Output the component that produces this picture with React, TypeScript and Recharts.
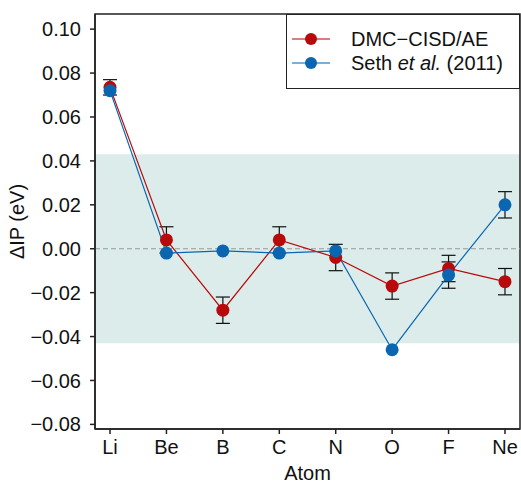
import {
  LineChart,
  Line,
  XAxis,
  YAxis,
  ErrorBar,
  ReferenceArea,
  ReferenceLine,
  Legend,
} from "recharts";

const atoms = ["Li", "Be", "B", "C", "N", "O", "F", "Ne"];
const dmcValues = [0.0735, 0.004, -0.028, 0.004, -0.004, -0.017, -0.009, -0.015];
const dmcErrors = [0.0035, 0.006, 0.006, 0.006, 0.006, 0.006, 0.006, 0.006];
const sethValues = [0.072, -0.002, -0.001, -0.002, -0.001, -0.046, -0.012, 0.02];
const sethErrors = [0, 0, 0, 0, 0, 0, 0.006, 0.006];
const yTicks = [-0.08, -0.06, -0.04, -0.02, 0, 0.02, 0.04, 0.06, 0.08, 0.1];
const bandLimit = 0.043;

const X_MIN = -0.266;
const X_MAX = 7.266;
const Y_MIN = -0.0821;
const Y_MAX = 0.1069;

const RED = "#b80a0a";
const BLUE = "#0a66b0";
const FONT = '"Liberation Sans", Arial, sans-serif';
const FS = 20;

const rows = atoms.map((atom, i) => ({
  x: i,
  atom,
  dmc: dmcValues[i],
  dmcErr: dmcErrors[i],
  seth: sethValues[i],
  sethErr: sethErrors[i],
}));

const series = [
  { name: "DMC\u2212CISD/AE", color: RED },
  { name: "Seth", color: BLUE },
];

function fmtY(v: number) {
  const s = Math.abs(v).toFixed(2);
  return v < -1e-9 ? "\u2212" + s : s;
}

function LegendBox() {
  return (
    <div
      style={{
        width: 234,
        height: 75,
        border: "1.5px solid #222",
        background: "#fff",
        boxSizing: "border-box",
        fontFamily: FONT,
        fontSize: FS,
        color: "#111",
        paddingTop: 12,
      }}
    >
      {series.map((s) => (
        <div key={s.name} style={{ display: "flex", alignItems: "center", height: 24 }}>
          <svg width={58} height={20} style={{ marginLeft: 4 }}>
            <line x1={1} y1={10} x2={39} y2={10} stroke={s.color} strokeWidth={1.5} opacity={0.7} />
            <circle cx={20} cy={10} r={6} fill={s.color} />
          </svg>
          <span style={{ marginLeft: 2 }}>
            {s.name === "Seth" ? (
              <>
                Seth <i>et al.</i> (2011)
              </>
            ) : (
              s.name
            )}
          </span>
        </div>
      ))}
    </div>
  );
}

export default function App() {
  return (
    <div style={{ position: "fixed", left: 0, top: 0, background: "#fff" }}>
      <LineChart
        width={521}
        height={483}
        data={rows}
        margin={{ top: 14, right: 1, bottom: 0, left: 0 }}
      >
        <ReferenceArea
          x1={X_MIN}
          x2={X_MAX}
          y1={-bandLimit}
          y2={bandLimit}
          fill="#dcecea"
          fillOpacity={1}
          stroke="none"
        />
        <ReferenceLine y={0} stroke="#999" strokeDasharray="5 3" strokeWidth={1.2} />
        <XAxis
          type="number"
          dataKey="x"
          domain={[X_MIN, X_MAX]}
          allowDataOverflow
          ticks={[0, 1, 2, 3, 4, 5, 6, 7]}
          interval={0}
          tickFormatter={(v: number) => atoms[v]}
          height={54}
          tickSize={5}
          tickMargin={6}
          stroke="#222"
          strokeWidth={1.5}
          tick={{ fill: "#111", fontSize: FS, fontFamily: FONT }}
          label={{
            value: "Atom",
            position: "insideBottom",
            offset: 3,
            style: { fill: "#111", fontSize: FS, fontFamily: FONT },
          }}
        />
        <YAxis
          type="number"
          domain={[Y_MIN, Y_MAX]}
          allowDataOverflow
          ticks={yTicks}
          interval={0}
          tickFormatter={fmtY}
          width={95}
          tickSize={5}
          tickMargin={9}
          stroke="#222"
          strokeWidth={1.5}
          tick={{ fill: "#111", fontSize: FS, fontFamily: FONT }}
          label={{
            value: "\u0394IP (eV)",
            angle: -90,
            position: "insideLeft",
            offset: 17,
            style: { fill: "#111", fontSize: FS, fontFamily: FONT, textAnchor: "middle" },
          }}
        />
        {/* error bars first so the markers sit on top of them */}
        <Line dataKey="dmc" stroke="none" dot={false} activeDot={false} isAnimationActive={false} legendType="none">
          <ErrorBar dataKey="dmcErr" width={7} stroke="#111" strokeWidth={1.2} direction="y" />
        </Line>
        <Line dataKey="seth" stroke="none" dot={false} activeDot={false} isAnimationActive={false} legendType="none">
          <ErrorBar dataKey="sethErr" width={7} stroke="#111" strokeWidth={1.2} direction="y" />
        </Line>
        <Line
          dataKey="dmc"
          stroke={RED}
          strokeWidth={1.2}
          dot={{ r: 6.5, fill: RED, stroke: "none" }}
          activeDot={false}
          isAnimationActive={false}
        />
        <Line
          dataKey="seth"
          stroke={BLUE}
          strokeWidth={1.2}
          dot={{ r: 6.5, fill: BLUE, stroke: "none" }}
          activeDot={false}
          isAnimationActive={false}
        />
        <ReferenceArea
          x1={X_MIN}
          x2={X_MAX}
          y1={Y_MIN}
          y2={Y_MAX}
          fill="none"
          stroke="#222"
          strokeWidth={1.5}
        />
        <Legend
          layout="vertical"
          align="center"
          verticalAlign="middle"
          content={() => <LegendBox />}
          wrapperStyle={{ left: 286, top: 14, width: 234 }}
        />
      </LineChart>
    </div>
  );
}
